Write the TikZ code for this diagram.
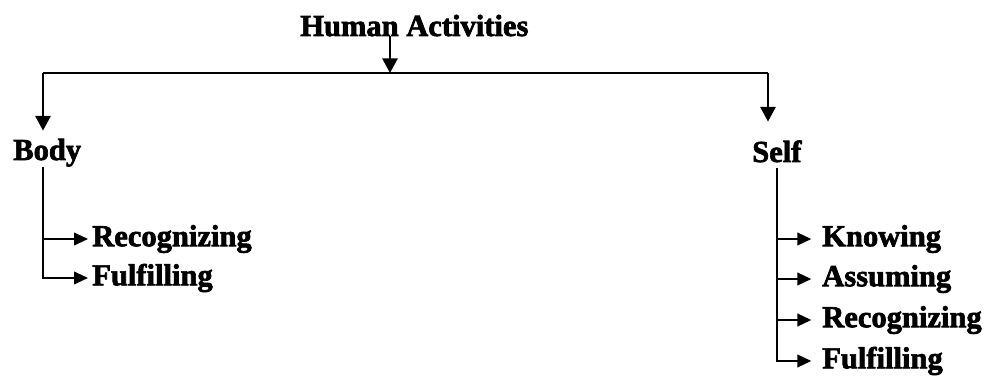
\documentclass[tikz,border=0pt]{standalone}
\usepackage{fontspec}
\newfontfamily\lblfamily{Liberation Serif}[BoldFeatures={FakeBold=2.2}]
\usetikzlibrary{arrows.meta}
\begin{document}
\begin{tikzpicture}[x=0.75pt,y=-0.75pt,
  lbl/.style={inner sep=0pt, font=\lblfamily\bfseries\fontsize{22.9}{27}\selectfont},
  conn/.style={line width=1.4pt, black},
  mainarr/.style={conn, -{Triangle[length=11pt,width=11.5pt]}},
  brarr/.style={conn, -{Triangle[length=10.5pt,width=9.5pt]}},
]
\useasboundingbox (0,0) rectangle (984,377);
% labels
\node[lbl, anchor=base west] (ha) at (300,36) {Human Activities};
\node[lbl, anchor=base west] (body) at (13,160) {Body};
\node[lbl, anchor=base west] (self) at (752,162) {Self};
\node[lbl, anchor=west] (br1) at (92,239) {Recognizing};
\node[lbl, anchor=west] (bf1) at (92,278) {Fulfilling};
\node[lbl, anchor=west] (sk) at (822,239) {Knowing};
\node[lbl, anchor=west] (sa) at (822,279) {Assuming};
\node[lbl, anchor=west] (sr) at (822,320) {Recognizing};
\node[lbl, anchor=west] (sf) at (822,361) {Fulfilling};
% top bar
\coordinate (bl) at (43,73);
\coordinate (br) at (768,73);
\coordinate (hx) at (390,73);
\coordinate (sx) at (777,168);
\draw[conn] (bl) -- (br);
\draw[mainarr] (ha.base -| hx) -- (hx);
\draw[mainarr, shorten >=6pt] (bl) -- (bl |- body.north);
\draw[mainarr, shorten >=14pt] (br) -- (br |- self.north);
% Body branches
\draw[brarr, shorten >=3pt] (body.south -| bl) |- (bf1.west);
\draw[brarr, shorten >=3pt] (bl |- br1.west) -- (br1.west);
% Self branches
\draw[brarr, shorten >=8pt] (sx) |- (sf.west);
\draw[brarr, shorten >=8pt] (sx |- sk.west) -- (sk.west);
\draw[brarr, shorten >=8pt] (sx |- sa.west) -- (sa.west);
\draw[brarr, shorten >=8pt] (sx |- sr.west) -- (sr.west);
\end{tikzpicture}
\end{document}
